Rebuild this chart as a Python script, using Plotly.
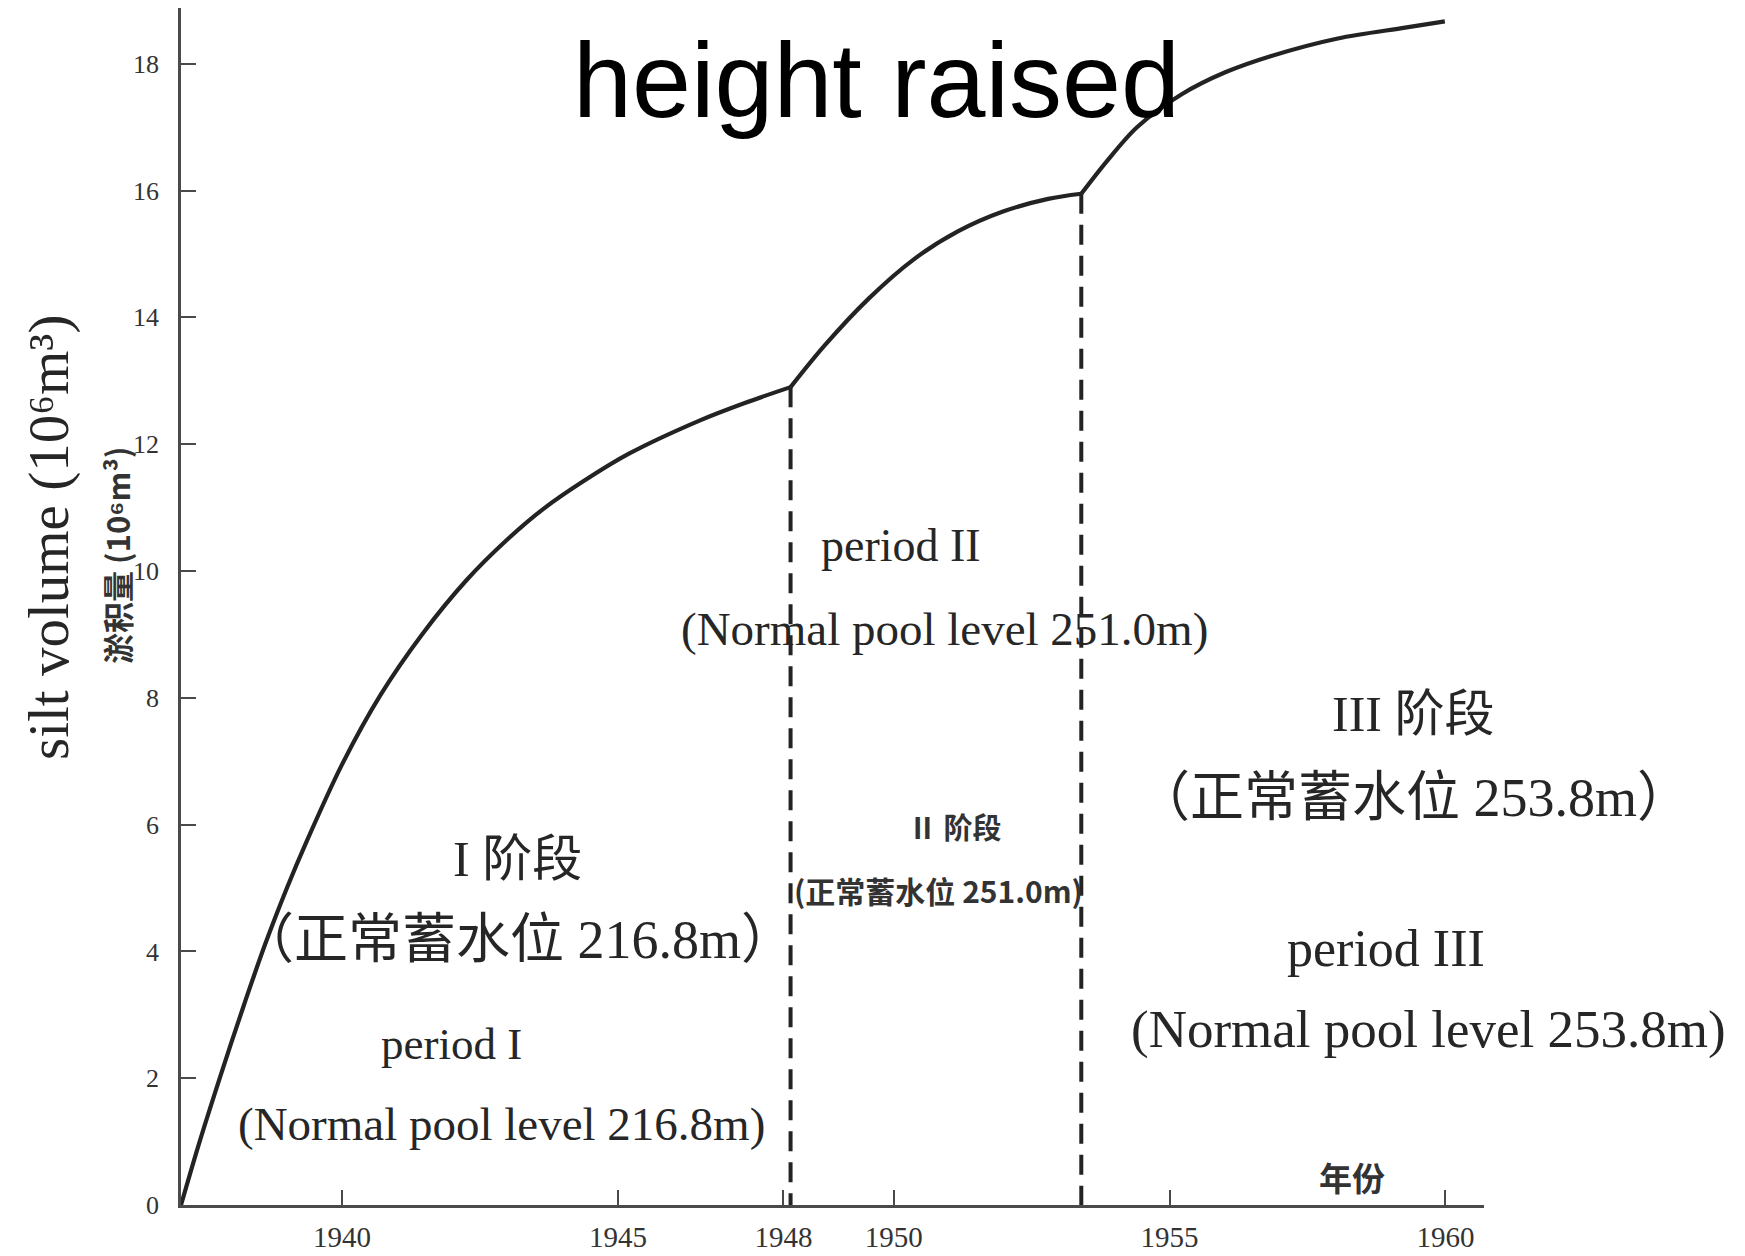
import plotly.graph_objects as go

# ---- data ----
seg1_years = [1937.08, 1937.4, 1937.8, 1938.2, 1938.6, 1939.0, 1939.35, 1940.0, 1940.7,
              1941.45, 1942.25, 1943.0, 1943.65, 1944.4, 1945.2, 1946.5, 1947.3, 1948.13]
seg1_vals = [0, 0.95, 2.05, 3.1, 4.1, 5.0, 5.72, 6.95, 8.05,
             9.0, 9.85, 10.5, 10.98, 11.43, 11.85, 12.38, 12.65, 12.9]

seg2_years = [1948.13, 1948.74, 1949.55, 1950.37, 1951.17, 1951.98, 1952.8, 1953.4]
seg2_vals = [12.9, 13.55, 14.3, 14.92, 15.36, 15.67, 15.87, 15.95]

seg3_years = [1953.4, 1953.85, 1954.41, 1955.22, 1956.02, 1956.83, 1958.05, 1959.27, 1959.99]
seg3_vals = [15.95, 16.45, 17.0, 17.52, 17.87, 18.12, 18.4, 18.57, 18.67]

break_years = [1948.13, 1953.4]
break_vals = [12.9, 15.95]

x_tick_vals = [1940, 1945, 1948, 1950, 1955, 1960]
x_tick_text = ["1940", "1945", "1948", "1950", "1955", "1960"]
y_tick_vals = [0, 2, 4, 6, 8, 10, 12, 14, 16, 18]
y_tick_text = ["0", "2", "4", "6", "8", "10", "12", "14", "16", "18"]

# ---- layout geometry (page pixels; the page body adds an 8px offset) ----
OFF = 8
W, H = 1745 - OFF, 1256 - OFF
L, R, T, B = 181 - OFF, 1484 - OFF, 0, 1205 - OFF
PW, PH = R - L, B - T


def xp(X):
    return (X - OFF - L) / PW


def yp(Y):
    return (B - (Y - OFF)) / PH


LINE = "#232323"
TXT = "#262626"
SERIF = "Liberation Serif, Times New Roman, Noto Sans CJK SC, serif"
CJK = "Liberation Serif, Noto Sans CJK SC, serif"
CJKB = "Noto Sans CJK SC, sans-serif"

fig = go.Figure()
for xs, ys in [(seg1_years, seg1_vals), (seg2_years, seg2_vals), (seg3_years, seg3_vals)]:
    fig.add_trace(go.Scatter(x=xs, y=ys, mode="lines",
                             line=dict(color=LINE, width=4.2, shape="spline", smoothing=0.9),
                             showlegend=False, hoverinfo="skip"))
for bx, bv in zip(break_years, break_vals):
    fig.add_trace(go.Scatter(x=[bx, bx], y=[bv, 0], mode="lines",
                             line=dict(color=LINE, width=4, dash="20px,11px"),
                             showlegend=False, hoverinfo="skip"))

ann = []


def add(text, X, Y, size, family=SERIF, color=TXT, angle=0, weight="normal"):
    ann.append(dict(text=text, x=xp(X), y=yp(Y), xref="paper", yref="paper",
                    xanchor="center", yanchor="middle", showarrow=False,
                    textangle=angle,
                    font=dict(size=size, family=family, color=color, weight=weight)))


add("height raised", 876, 80, 106, family="Liberation Sans, Arial, sans-serif", color="#000000")
add("silt volume (10⁶m³)", 49, 538, 57, angle=-90)
add("淤积量 (10⁶m³)", 116, 556, 31, family=CJKB, color="#333333", angle=-90, weight="bold")

add("I 阶段", 517, 859, 50, family=CJK)
add("（正常蓄水位 216.8m）", 517, 940, 54, family=CJK)
add("period I", 451, 1044, 45)
add("(Normal pool level 216.8m)", 501, 1124, 47)

add("period II", 901, 545, 46)
add("(Normal pool level 251.0m)", 944, 629, 47)
add("Ⅱ 阶段", 955, 826, 29, family=CJKB, color="#333333", weight="bold")
add("(正常蓄水位 251.0m)", 938, 890, 30, family=CJKB, color="#333333", weight="bold")

add("III 阶段", 1413, 714, 50, family=CJK)
add("（正常蓄水位 253.8m）", 1413, 798, 54, family=CJK)
add("period III", 1386, 948, 52)
add("(Normal pool level 253.8m)", 1428, 1029, 53)

add("年份", 1352, 1177, 33, family=CJKB, color="#333333", weight="bold")

fig.update_layout(
    width=W, height=H,
    margin=dict(l=L, r=W - R, t=T, b=H - B, pad=0),
    paper_bgcolor="white", plot_bgcolor="white",
    annotations=ann,
    xaxis=dict(range=[1937.08, 1960.7], showgrid=False, zeroline=False,
               showline=True, linecolor="#4a4a4a", linewidth=3,
               ticks="inside", ticklen=15, tickwidth=2, tickcolor="#4a4a4a",
               tickvals=x_tick_vals, ticktext=x_tick_text,
               tickfont=dict(size=29, family=SERIF, color="#333333"),
               ticklabelstandoff=4),
    yaxis=dict(range=[0, 18.88], showgrid=False, zeroline=False,
               showline=True, linecolor="#4a4a4a", linewidth=2.5,
               ticks="inside", ticklen=15, tickwidth=2, tickcolor="#4a4a4a",
               tickvals=y_tick_vals, ticktext=y_tick_text,
               tickfont=dict(size=26, family=SERIF, color="#333333"),
               ticklabelstandoff=14),
)

fig.write_html("out.html")
